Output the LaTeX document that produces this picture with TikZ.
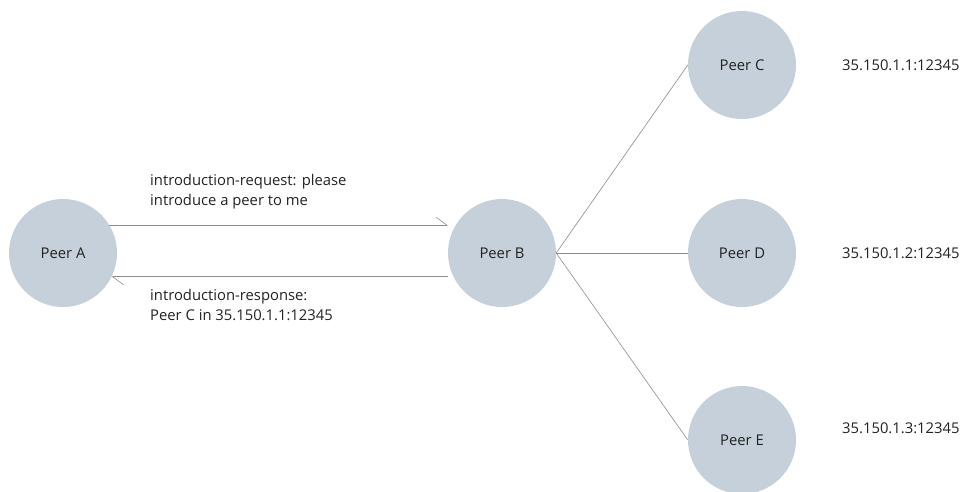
\documentclass[tikz,border=0pt]{standalone}
\usepackage{fontspec}
\setmainfont{Open Sans}
\usetikzlibrary{arrows.meta}
\definecolor{peerfill}{RGB}{197,208,218}
\definecolor{linegray}{RGB}{140,140,140}
\definecolor{txt}{RGB}{34,34,34}

\begin{document}
\begin{tikzpicture}[x=1pt, y=-1pt,
        font=\fontsize{14.8}{20}\selectfont, text=txt,
        peer/.style={circle, fill=peerfill, minimum size=108pt, inner sep=0pt},
        msg/.style={draw=linegray, line width=0.6pt, -{Straight Barb[left, length=11pt, width=16pt]}},
        link/.style={draw=linegray, line width=0.6pt},
        addr/.style={anchor=west, inner sep=0pt}]
        \useasboundingbox (0,0) rectangle (963,491);

        % Peers
        \node[peer] (A) at (63,253) {Peer A};
        \node[peer] (B) at (502,253) {Peer B};
        \node[peer] (C) at (742,65) {Peer C};
        \node[peer] (D) at (742,253) {Peer D};
        \node[peer] (E) at (742,440) {Peer E};

        % Messages
        \draw[msg] (A.31) -- (A.31 -| B.west);
        \draw[msg] (A.-26 -| B.west) -- (A.-26);
        \node[anchor=north west, align=left, inner sep=0pt] (req) at (150,174)
            {introduction-request: please\\introduce a peer to me};
        \node[anchor=north west, align=left, inner sep=0pt] (resp) at (150,289)
            {introduction-response:\\Peer C in 35.150.1.1:12345};

        % Links
        \draw[link] (B.east) -- (C.west);
        \draw[link] (B.east) -- (D.west);
        \draw[link] (B.east) -- (E.west);

        % Addresses
        \node[addr] (ipC) at (842,65) {35.150.1.1:12345};
        \node[addr] (ipD) at (842,253) {35.150.1.2:12345};
        \node[addr] (ipE) at (842,428) {35.150.1.3:12345};
    \end{tikzpicture}
\end{document}
